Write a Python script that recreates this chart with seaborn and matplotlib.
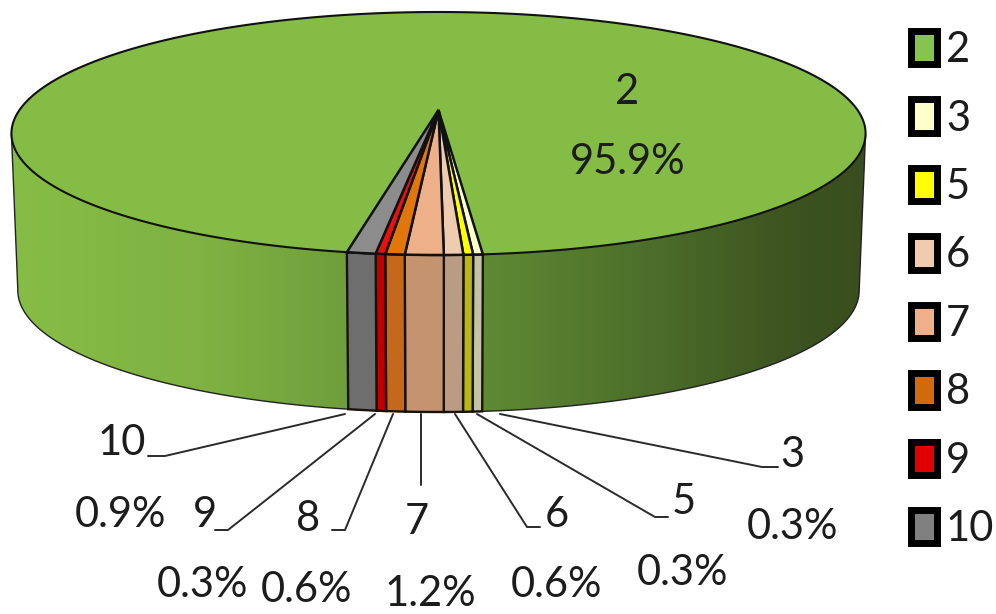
import numpy as np
import seaborn as sns
import matplotlib.pyplot as plt
from matplotlib.colors import LinearSegmentedColormap
from matplotlib.patches import Polygon, Rectangle

# values as printed on the chart, in legend order
categories = ['2', '3', '5', '6', '7', '8', '9', '10']
percents = [95.9, 0.3, 0.3, 0.6, 1.2, 0.6, 0.3, 0.9]

top_colors = ['#85bc45', '#ffffcc', '#ffff00', '#efcbb0', '#eeb088', '#e0760c', '#e81010', '#8c8c8c']
side_colors = ['#6f9e3c', '#c3c3a6', '#b7b71a', '#b89d84', '#c49470', '#c4691c', '#c00000', '#6e6e6e']
legend_colors = ['#85c44f', '#ffffcc', '#ffff00', '#efcbb0', '#eeb088', '#d06a0c', '#e00000', '#808080']

# label positions in pixels: name, percent, leader start, elbow, end of the short tail
name_xy = [(627, 92), (792, 455), (684, 502), (557, 515), (417, 522), (308, 519), (205, 515), (122, 443)]
pct_xy = [(628, 162), (792, 527), (683, 573), (556, 585), (430, 594), (307, 590), (203, 585), (120, 515)]
start_xy = [None, (500, 414), (477, 414), (455, 414), (421, 414), (393, 414), (375, 414), (345, 414)]
elbow_xy = [None, (762, 467), (655, 517), (527, 527), (421, 485), (345, 530), (228, 530), (165, 456)]
tail_xy = [None, (778, 467), (668, 517), (540, 527), (421, 485), (332, 530), (215, 530), (148, 456)]

CX = 438.5
START_DEG = -10.2
DEPTH = 157


def rim(theta):
    # circle seen in perspective, theta in degrees from the front going right
    t = np.radians(theta)
    w = 1 - 0.1934 * np.cos(t)
    return CX + 419 * np.sin(t) / w, (95.68 * np.cos(t) + 110) / w


def rim_low(theta):
    x, y = rim(theta)
    return CX + (x - CX) * 0.985, y + DEPTH


sns.set_theme(style='white')
plt.rcParams['font.family'] = ['Lato', 'DejaVu Sans']

fig, ax = plt.subplots(figsize=(9.96, 6.14), dpi=100)
fig.subplots_adjust(0, 0, 1, 1)

# slice boundaries from the values
shares = np.array(percents) / np.sum(percents) * 360
edges = START_DEG - np.concatenate([[0], np.cumsum(shares)])

# side wall: gradient clipped to the silhouette
all_t = np.linspace(-180, 180, 1441)
tx, ty = rim(all_t)
lx, ly = rim_low(all_t)
i_left, i_right = tx.argmin(), tx.argmax()
j_left, j_right = lx.argmin(), lx.argmax()
outline = np.vstack([[tx[i_left], ty[i_left]],
                     np.column_stack([lx[j_left:j_right + 1], ly[j_left:j_right + 1]]),
                     [tx[i_right], ty[i_right]]])
wall = Polygon(outline, closed=True, fc='none', ec='#222222', lw=1.0, zorder=3)
ax.add_patch(wall)
stops = [(11, '#86bd46'), (200, '#7fb242'), (348, '#6f9e3c'), (349, '#6f9e3c'), (483, '#5f8a34'),
         (650, '#4c6e2a'), (800, '#3c5220'), (866, '#3a4d1e')]
shade = LinearSegmentedColormap.from_list('wall', [((x - 11) / 855, c) for x, c in stops])
grad = ax.imshow(np.linspace(0, 1, 855)[None, :], cmap=shade, extent=(11, 866, 430, 100),
                 aspect='auto', zorder=2)
grad.set_clip_path(wall)

# small slices on the wall
for i in range(1, len(percents)):
    a = np.linspace(edges[i] + 360, edges[i + 1] + 360, 12)
    a = np.where(a > 180, a - 360, a)
    x1, y1 = rim(a)
    x2, y2 = rim_low(a)
    pts = np.vstack([np.column_stack([x1, y1]), np.column_stack([x2, y2])[::-1]])
    ax.add_patch(Polygon(pts, closed=True, fc=side_colors[i], ec='#1a1208', lw=1.7, zorder=4))

# top face
ax.add_patch(Polygon(np.column_stack([tx, ty]), closed=True, fc=top_colors[0], ec='#111111', lw=1.5, zorder=5))
apex = (CX, 110)
for i in range(1, len(percents)):
    a = np.linspace(edges[i] + 360, edges[i + 1] + 360, 12)
    a = np.where(a > 180, a - 360, a)
    x1, y1 = rim(a)
    pts = np.vstack([[apex], np.column_stack([x1, y1])])
    ax.add_patch(Polygon(pts, closed=True, fc=top_colors[i], ec='#111111', lw=1.8, zorder=6))

# labels and leader lines
for i, cat in enumerate(categories):
    ax.text(*name_xy[i], cat, fontsize=30, color='#1c1c1c', ha='center', va='center', zorder=8)
    ax.text(*pct_xy[i], f'{percents[i]}%', fontsize=30, color='#1c1c1c', ha='center', va='center', zorder=8)
    if elbow_xy[i] is None:
        continue
    ax.plot([start_xy[i][0], elbow_xy[i][0], tail_xy[i][0]], [start_xy[i][1], elbow_xy[i][1], tail_xy[i][1]],
            color='#2a2a2a', lw=1.4, zorder=7)

# legend
handles = [Rectangle((0, 0), 1, 1, fc=c, ec='black', lw=5) for c in legend_colors]
ax.legend(handles, categories, loc='upper left', bbox_to_anchor=(911, 31), bbox_transform=ax.transData,
          frameon=False, fontsize=30, borderpad=0, borderaxespad=0, handlelength=0.62, handleheight=0.85,
          handletextpad=0.22, labelspacing=0.73, labelcolor='#1c1c1c')

ax.set_xlim(0, 996)
ax.set_ylim(614, 0)
ax.axis('off')
fig.savefig('out.png', dpi=100, facecolor='white')
